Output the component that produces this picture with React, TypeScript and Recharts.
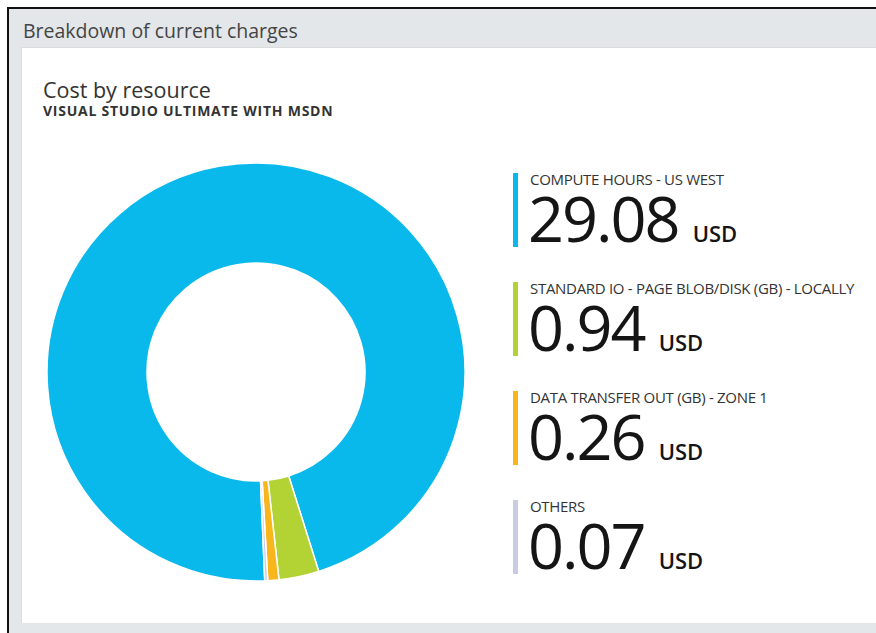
import { PieChart, Pie, Cell } from 'recharts';

const categories = [
  'COMPUTE HOURS - US WEST',
  'STANDARD IO - PAGE BLOB/DISK (GB) - LOCALLY',
  'DATA TRANSFER OUT (GB) - ZONE 1',
  'OTHERS',
];
const costs = [29.08, 0.94, 0.26, 0.07];
const sliceColors = ['#0ab9ec', '#b3d234', '#f9b51c', '#c9cbe2'];
const currency = 'USD';

const FONT = '"Open Sans", "Noto Sans", sans-serif';

const App = () => {
  const data = categories.map((name, i) => ({ name, value: costs[i] }));

  return (
    <div style={{ position: 'fixed', left: 0, top: 0, width: 876, height: 633, background: '#fff', overflow: 'hidden', fontFamily: FONT }}>
      {/* outer blade frame */}
      <div
        style={{
          position: 'absolute', left: 7, top: 7, width: 880, height: 640,
          borderLeft: '2px solid #111', borderTop: '2px solid #111', background: '#e4e7ea',
        }}
      />
      <div style={{ position: 'absolute', left: 23, top: 21, fontSize: 19.5, lineHeight: 1, color: '#444' }}>
        Breakdown of current charges
      </div>

      {/* white tile */}
      <div
        style={{
          position: 'absolute', left: 21, top: 47, width: 860, height: 575,
          background: '#fff', borderTop: '1px solid #dcdcdc', borderLeft: '1px solid #dcdcdc',
        }}
      />
      <div style={{ position: 'absolute', left: 43, top: 79, fontSize: 21.5, lineHeight: 1, color: '#333' }}>
        Cost by resource
      </div>
      <div style={{ position: 'absolute', left: 43, top: 103.5, fontSize: 14, lineHeight: 1, fontWeight: 700, color: '#333', letterSpacing: 0.75 }}>
        VISUAL STUDIO ULTIMATE WITH MSDN
      </div>

      <div style={{ position: 'absolute', left: 36, top: 152 }}>
        <PieChart width={440} height={440}>
          <Pie
            data={data}
            dataKey="value"
            nameKey="name"
            cx="50%"
            cy="50%"
            innerRadius={109}
            outerRadius={209}
            startAngle={272.4}
            endAngle={-87.6}
            stroke="#fff"
            strokeWidth={1.5}
            isAnimationActive={false}
          >
            {data.map((d, i) => (
              <Cell key={d.name} fill={sliceColors[i]} />
            ))}
          </Pie>
        </PieChart>
      </div>

      {/* legend with totals */}
      {categories.map((name, i) => {
        const top = 173 + i * 109;
        return (
          <div key={name}>
            <div style={{ position: 'absolute', left: 513, top, width: 5, height: 74, background: sliceColors[i] }} />
            <div
              style={{
                position: 'absolute', left: 530, top: top + 1, fontSize: 15, lineHeight: 0.75,
                color: '#333', letterSpacing: -0.3, whiteSpace: 'nowrap',
              }}
            >
              {name}
            </div>
            <div
              style={{
                position: 'absolute', left: 528, top: top + 20, display: 'flex', alignItems: 'baseline',
                color: '#151515', whiteSpace: 'nowrap',
              }}
            >
              <span style={{ fontSize: 63, lineHeight: 0.8, letterSpacing: -2 }}>{costs[i].toFixed(2)}</span>
              <span style={{ fontSize: 22, lineHeight: 0.8, fontWeight: 600, marginLeft: 14 }}>{currency}</span>
            </div>
          </div>
        );
      })}
    </div>
  );
};

export default App;
